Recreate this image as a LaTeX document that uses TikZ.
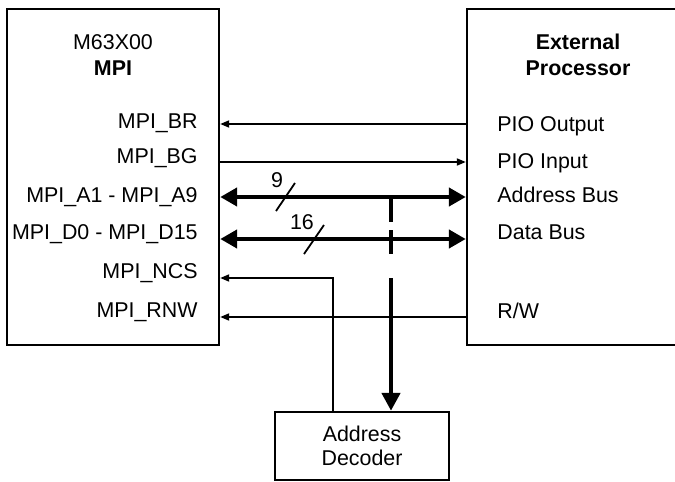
\documentclass[tikz,border=0pt]{standalone}
\usepackage{fontspec}
\setmainfont{Liberation Sans}
\usetikzlibrary{arrows.meta,positioning,calc}

\begin{document}
\begin{tikzpicture}[
  x=0.5pt, y=-0.5pt,
  font=\fontsize{10.7}{13}\selectfont,
  box/.style={draw, line width=1.2pt, minimum width=106pt, minimum height=168pt, inner sep=0pt},
  decbox/.style={draw, line width=1.2pt, minimum width=87pt, minimum height=34pt, align=center, inner sep=0pt, font=\fontsize{10.7}{12}\selectfont},
  sig/.style={line width=0.9pt, -{Triangle[length=4.5pt, width=3.5pt]}},
  bus/.style={line width=2.4pt, {Triangle[length=8.5pt, width=9pt]}-{Triangle[length=8.5pt, width=9pt]}},
  tap/.style={line width=2.4pt, -{Triangle[length=9pt, width=9pt]}, dash pattern=on 12.5pt off 4pt on 12pt off 12pt on 90pt off 1pt},
  slash/.style={line width=0.9pt},
  pinl/.style={anchor=base east, inner sep=0pt},
  pinr/.style={anchor=base west, inner sep=0pt},
]
\useasboundingbox (0,0) rectangle (675,482);
\clip (0,0) rectangle (675,482);

% Blocks: MPI on the left, external processor (cut by the page edge) on the right
\node[box]                     (mpi) at (113,177) {};
\node[box, minimum width=111pt] (ext) at (578,177) {};
\node[decbox]                  (dec) at (362,446) {Address\\Decoder};

\node[align=center] (mpiname) at (113,55) {M63X00\\\textbf{MPI}};
\node[align=center] (extname) at (578,55) {\textbf{External}\\\textbf{Processor}};

% Signal rows
\coordinate (rBR)  at (0,124);
\coordinate (rBG)  at (0,162);
\coordinate (rA)   at (0,197);
\coordinate (rD)   at (0,239);
\coordinate (rNCS) at (0,278);
\coordinate (rRNW) at (0,317);
\coordinate (ncsX) at (333,0);
\coordinate (tapTop) at (391,197);

% Pin names, MPI side
\node[pinl] (lBR)  at (198,128) {MPI\_BR};
\node[pinl] (lBG)  at (198,163) {MPI\_BG};
\node[pinl] (lA)   at (198,202) {MPI\_A1 - MPI\_A9};
\node[pinl] (lD)   at (198,239) {MPI\_D0 - MPI\_D15};
\node[pinl] (lNCS) at (198,278) {MPI\_NCS};
\node[pinl] (lRNW) at (198,317) {MPI\_RNW};

% Pin names, processor side
\node[pinr] (lOut)  at (497,131) {PIO Output};
\node[pinr] (lIn)   at (497,168) {PIO Input};
\node[pinr] (lAbus) at (497,202) {Address Bus};
\node[pinr] (lDbus) at (497,239) {Data Bus};
\node[pinr] (lRW)   at (497,318) {R/W};

% Wires
\draw[sig] (ext.west |- rBR)  -- (mpi.east |- rBR);
\draw[sig] (mpi.east |- rBG)  -- (ext.west |- rBG);
\draw[bus] (mpi.east |- rA)   -- (ext.west |- rA);
\draw[bus] (mpi.east |- rD)   -- (ext.west |- rD);
\draw[sig] (ext.west |- rRNW) -- (mpi.east |- rRNW);
\draw[sig] (dec.north -| ncsX) |- (mpi.east |- rNCS);
\draw[tap] (tapTop) -- (dec.north -| tapTop);

% Bus widths
\coordinate (wA) at (285.5,197);
\coordinate (wD) at (314,239.5);
\draw[slash] ($(wA)+(-9.5,14)$) -- ($(wA)+(9.5,-14)$);
\draw[slash] ($(wD)+(-10,14.5)$) -- ($(wD)+(10,-14.5)$);
\node (nA) at (277,180) {9};
\node (nD) at (302,222) {16};

\end{tikzpicture}
\end{document}
